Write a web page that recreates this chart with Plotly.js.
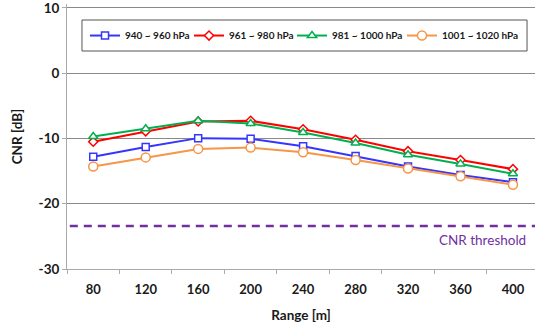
<!DOCTYPE html>
<html><head><meta charset="utf-8">
<script src="https://cdn.plot.ly/plotly-3.0.1.min.js"></script>
<style>html,body{margin:0;padding:0;background:#fff}#chart{width:535px;height:324px}</style>
</head><body><div id="chart"></div>
<script>
const ranges = ["80","120","160","200","240","280","320","360","400"];
const seriesNames = ["940 ~ 960 hPa","961 ~ 980 hPa","981 ~ 1000 hPa","1001 ~ 1020 hPa"];
const cnr940 = [-12.8,-11.3,-9.95,-10.05,-11.2,-12.7,-14.3,-15.6,-16.7];
const cnr961 = [-10.5,-8.9,-7.4,-7.3,-8.6,-10.2,-11.95,-13.3,-14.7];
const cnr981 = [-9.7,-8.5,-7.3,-7.7,-9.1,-10.7,-12.5,-13.9,-15.4];
const cnr1001 = [-14.3,-12.9,-11.6,-11.4,-12.1,-13.3,-14.6,-15.8,-17.1];
const yTickVals = [-30,-20,-10,0,10];
const yTickText = ["-30","-20","-10","0","10"];
const threshold = -23.4;
const thresholdLabel = "CNR threshold";

const colors = ["#3535FF","#FF0000","#00B050","#F79646"];
const symbols = ["square","diamond","triangle-up","circle"];
const sizes = [7,7,8,9];
const allData = [cnr940,cnr961,cnr981,cnr1001];
const font = "Lato, 'Open Sans', sans-serif";
const legendIds = ["legend","legend2","legend3","legend4"];
const legendX = [0.0385, 0.2607, 0.4808, 0.7158];

const traces = allData.map((d,i)=>({
  x: ranges, y: d, name: seriesNames[i], type:'scatter', mode:'lines+markers',
  legend: legendIds[i],
  line:{color:colors[i], width:2},
  marker:{symbol:symbols[i], size:sizes[i], color:'#fff', line:{color:colors[i], width:1.5}}
}));

const layout = {
  width:535, height:324,
  margin:{l:67, r:0, t:4, b:55},
  paper_bgcolor:'#fff', plot_bgcolor:'#fff',
  font:{family:font, color:'#1a1a1a'},
  showlegend:true,
  xaxis:{type:'category', range:[-0.5, 8.42], tickson:'boundaries', ticks:'outside', ticklen:4,
    tickcolor:'#aaa', showline:true, linecolor:'#aaa', linewidth:1, showgrid:false,
    ticklabelstandoff:8,
    tickfont:{size:13, family:font, weight:'bold'},
    title:{text:'Range [m]', font:{size:13.5, family:font, weight:'bold'}, standoff:14}},
  yaxis:{range:[-30,10.6], tickvals:yTickVals, ticktext:yTickText, ticks:'outside', ticklen:4, tickcolor:'#aaa',
    ticklabeloverflow:'allow',
    showline:true, linecolor:'#aaa', linewidth:1,
    showgrid:true, gridcolor:'#8a8a8a', gridwidth:1, zeroline:true, zerolinecolor:'#8a8a8a', zerolinewidth:1,
    tickfont:{size:13.5, family:font, weight:'bold'},
    title:{text:'CNR [dB]', font:{size:13.5, family:font, weight:'bold'}, standoff:12}},
  shapes:[
    {type:'rect', xref:'paper', yref:'paper', x0:0.032, x1:0.983, y0:0.8226, y1:0.9396,
      line:{color:'#555', width:1}, fillcolor:'#fff', layer:'below'},
    {type:'line', xref:'paper', yref:'y', x0:0.006, x1:1, y0:threshold, y1:threshold,
      line:{color:'#7030A0', width:2.5, dash:'8px,6px'}}],
  annotations:[{xref:'paper', yref:'y', x:0.985, y:threshold, yshift:-14, xanchor:'right', yanchor:'middle',
    text:thresholdLabel, showarrow:false, font:{size:13.5, family:font, color:'#7030A0'}}]
};
legendIds.forEach((id,i)=>{
  layout[id] = {orientation:'h', x:legendX[i], y:0.881, xanchor:'left', yanchor:'middle',
    borderwidth:0, bgcolor:'rgba(0,0,0,0)',
    font:{size:10, family:font, weight:'bold', color:'#1a1a1a'}};
});
Plotly.newPlot('chart', traces, layout, {displayModeBar:false});
</script></body></html>
